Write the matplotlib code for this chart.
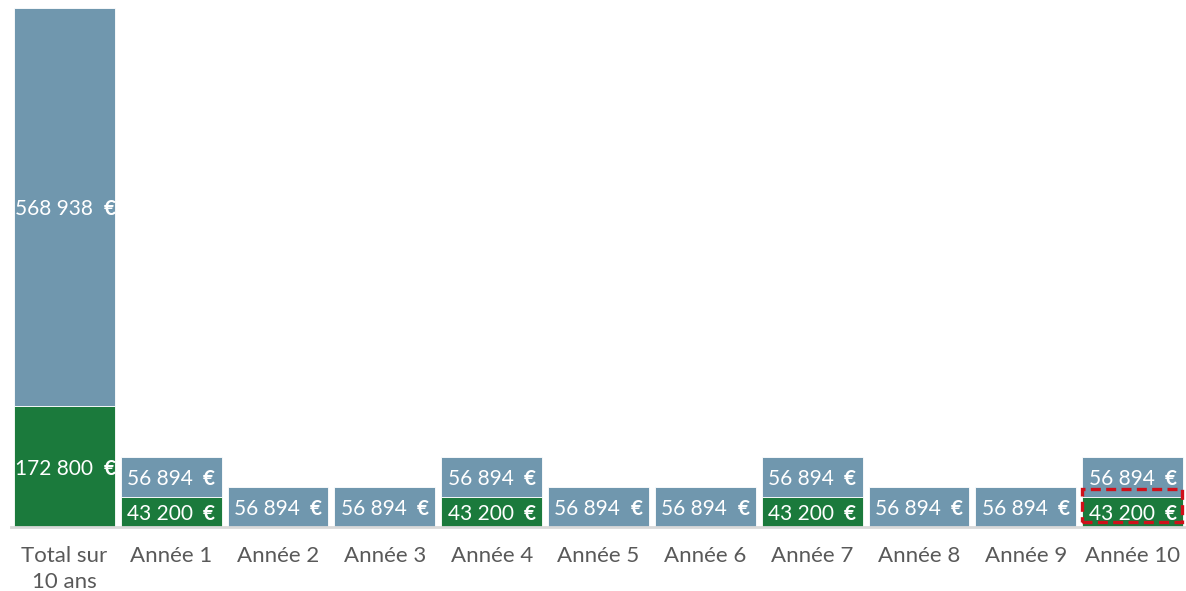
import matplotlib
matplotlib.use("Agg")
import matplotlib.pyplot as plt
from matplotlib.patches import Rectangle

# chart data
categories = ["Total sur\n10 ans", "Année 1", "Année 2", "Année 3", "Année 4", "Année 5",
              "Année 6", "Année 7", "Année 8", "Année 9", "Année 10"]
green_vals = [172800, 43200, 0, 0, 43200, 0, 0, 43200, 0, 0, 43200]
blue_vals = [568938, 56894, 56894, 56894, 56894, 56894, 56894, 56894, 56894, 56894, 56894]

green = "#1B7A3C"
blue = "#7097AE"
font = "Lato"

def fmt(v):
    return f"{v:,.0f}".replace(",", " ")

fig = plt.figure(figsize=(11.86, 5.91), dpi=100)
ax = fig.add_axes([11 / 1186, 64 / 591, 1175 / 1186, 519 / 591])

x = list(range(len(categories)))
w = 0.944
ax.bar(x, green_vals, width=w, color=green, edgecolor="white", linewidth=0.6)
ax.bar(x, blue_vals, width=w, bottom=green_vals, color=blue, edgecolor="white", linewidth=0.6)

def label(xi, bottom, h):
    yc = bottom + h / 2
    left = xi - w / 2
    right = xi + w / 2
    pad = 0.01 if xi == 0 else 0.06
    ax.text(left + pad, yc, fmt(h), ha="left", va="center_baseline", color="white",
            fontsize=15, family=font, clip_on=True)
    ax.text(right - 0.06 + (0.07 if xi == 0 else 0), yc, "€", ha="right",
            va="center_baseline", color="white",
            fontsize=15, family=font, fontweight="bold", clip_on=True)

for i in x:
    if green_vals[i] > 0:
        label(i, 0, green_vals[i])
    label(i, green_vals[i], blue_vals[i])

ax.set_xlim(-0.5, len(categories) - 0.5)
ax.set_ylim(0, green_vals[0] + blue_vals[0])

# highlight box around last year's green segment
ax.add_patch(Rectangle((10 - 0.477, 7100), 0.944, 47200, fill=False,
                       edgecolor="#D0101A", linestyle=(0, (3, 1.6)), linewidth=2.4,
                       clip_on=False, zorder=5))

for s in ["top", "right", "left"]:
    ax.spines[s].set_visible(False)
ax.spines["bottom"].set_color("#D9D9D9")
ax.spines["bottom"].set_linewidth(2)
ax.set_yticks([])
ax.set_xticks(x)
ax.set_xticklabels(categories, fontsize=16, color="#595959", family=font,
                   linespacing=1.35)
ax.tick_params(axis="x", length=0, pad=14)

fig.savefig("out.png", dpi=100)
